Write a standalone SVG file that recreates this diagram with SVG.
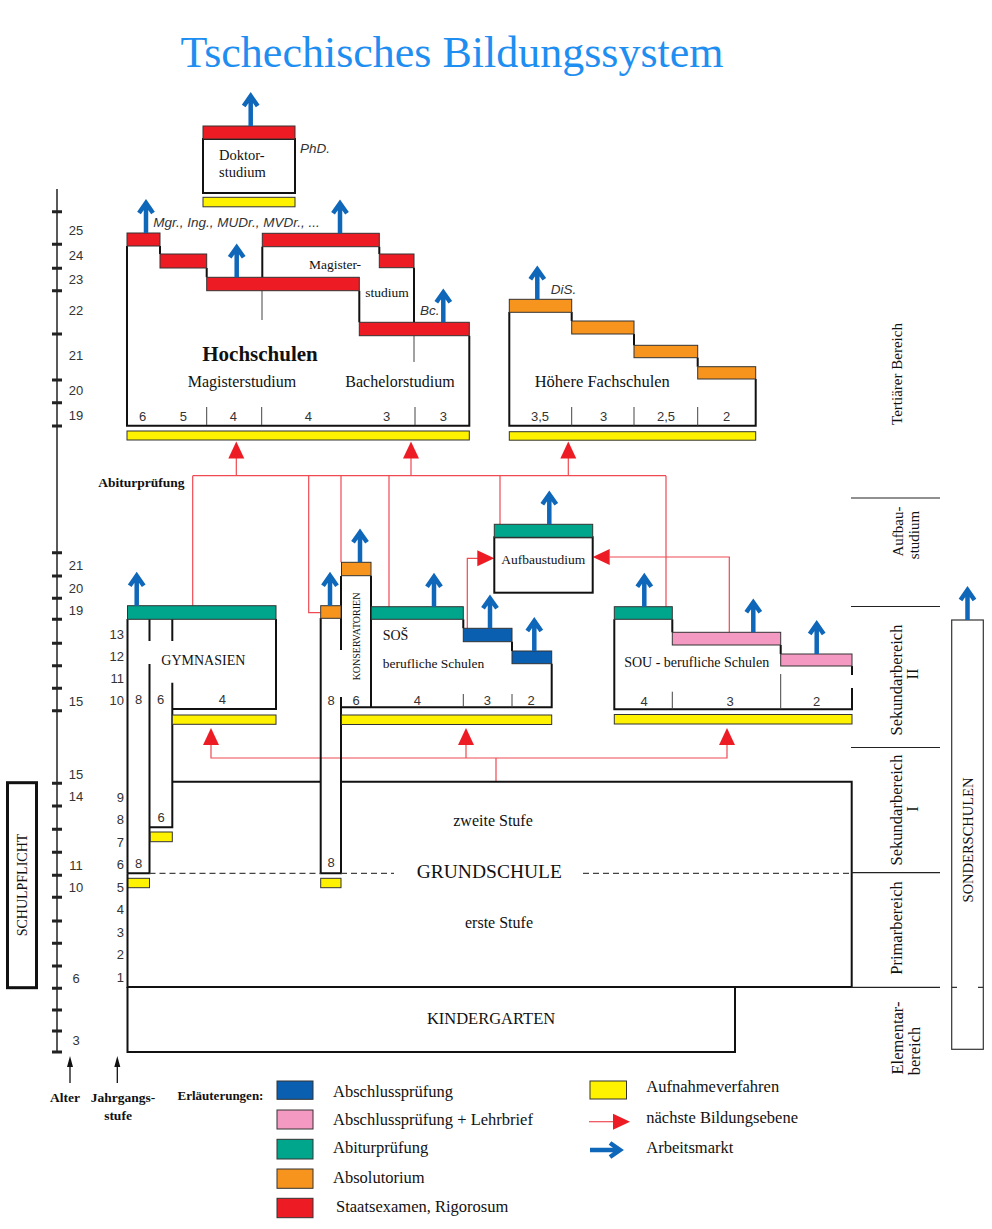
<svg xmlns="http://www.w3.org/2000/svg" xmlns:xlink="http://www.w3.org/1999/xlink" width="992" height="1229" viewBox="0 0 992 1229">
<style>
text{font-family:"Liberation Serif",serif;fill:#111}
.sn{font-family:"Liberation Sans",sans-serif;fill:#333;font-size:13px}
.it{font-family:"Liberation Sans",sans-serif;font-style:italic;fill:#333;font-size:13.5px}
.ol{fill:none;stroke:#111;stroke-width:2}
.tl{fill:none;stroke:#444;stroke-width:1}
.bar{stroke:#333;stroke-width:1}
.r{fill:#ed1c24}.o{fill:#f7941d}.g{fill:#00a68b}.b{fill:#0b5fb0}.p{fill:#f49ac2}.y{fill:#fff200}
.rl{fill:none;stroke:#ef4a52;stroke-width:1.2}
.sep{stroke:#222;stroke-width:1.2}
.mid{text-anchor:middle}
.end{text-anchor:end}
.bd{font-weight:bold}
</style>
<defs>
<g id="ba"><path d="M0,0 V-27 M-7,-20 L0,-30 L7,-20" fill="none" stroke="#0f67b9" stroke-width="4.5" stroke-miterlimit="10"/></g>
<path id="rh" d="M0,0 L8,17 L-8,17 Z" fill="#ed1c24"/>
</defs>
<rect width="992" height="1229" fill="#fff"/>
<text x="452" y="67" class="mid" font-size="44" style="fill:#1f8ef1">Tschechisches Bildungssystem</text>

<g id="axis">
<path d="M57,189 V1052" stroke="#222" stroke-width="1.5"/>
<path stroke="#222" stroke-width="3" d="M52,211.7H62M52,244.3H62M52,268.3H62M52,290.7H62M52,334H62M52,380H62M52,402.7H62M52,426H62M52,552.7H62M52,576H62M52,598.3H62M52,619.3H62M52,643.3H62M52,665.7H62M52,688.3H62M52,710.7H62M52,783.3H62M52,806H62M52,829.3H62M52,852.3H62M52,875.3H62M52,897.3H62M52,921H62M52,943.3H62M52,966H62M52,988.3H62M52,1010H62M52,1031H62M52,1052H62"/>
<g>
<text x="76" y="235" class="sn mid">25</text><text x="76" y="260" class="sn mid">24</text><text x="76" y="284" class="sn mid">23</text><text x="76" y="315" class="sn mid">22</text><text x="76" y="360" class="sn mid">21</text><text x="76" y="395" class="sn mid">20</text><text x="76" y="420" class="sn mid">19</text>
<text x="76" y="570" class="sn mid">21</text><text x="76" y="593" class="sn mid">20</text><text x="76" y="615" class="sn mid">19</text>
<text x="76" y="706" class="sn mid">15</text><text x="76" y="779" class="sn mid">15</text><text x="76" y="801" class="sn mid">14</text><text x="76" y="870" class="sn mid">11</text><text x="76" y="892" class="sn mid">10</text><text x="76" y="983" class="sn mid">6</text><text x="76" y="1045" class="sn mid">3</text>
</g>
<g>
<text x="124" y="639" class="sn end">13</text><text x="124" y="661" class="sn end">12</text><text x="124" y="683" class="sn end">11</text><text x="124" y="705" class="sn end">10</text>
<text x="124" y="802" class="sn end">9</text><text x="124" y="824" class="sn end">8</text><text x="124" y="847" class="sn end">7</text><text x="124" y="869" class="sn end">6</text><text x="124" y="892" class="sn end">5</text><text x="124" y="914" class="sn end">4</text><text x="124" y="937" class="sn end">3</text><text x="124" y="959" class="sn end">2</text><text x="124" y="982" class="sn end">1</text>
</g>
<path d="M70,1083 V1064 M117.3,1083 V1064" stroke="#111" stroke-width="1.3"/>
<path d="M70,1056 L67,1067 L73,1067 Z M117.3,1056 L114.3,1067 L120.3,1067 Z" fill="#111"/>
<text x="65" y="1101.5" class="mid bd" font-size="13.5">Alter</text>
<text x="123" y="1101.5" class="mid bd" font-size="13.5">Jahrgangs-</text>
<text x="118" y="1120" class="mid bd" font-size="13.5">stufe</text>
</g>

<g id="schulpflicht">
<rect x="7.5" y="782.7" width="29" height="205" fill="none" stroke="#111" stroke-width="3"/>
<text transform="translate(27,885) rotate(-90)" class="mid" font-size="14">SCHULPFLICHT</text>
</g>

<g id="connectors">
<path class="rl" d="M192.7,475.7 H666 M236.3,458 V475.7 M411,458 V475.7 M568.3,458 V475.7 M192.7,475.7 V605.7 M308.7,475.7 V612.7 H320.7 M341,475.7 V562.3 M389,475.7 V606.7 M500,475.7 V524.3 M666,475.7 V606.7"/>
<use xlink:href="#rh" href="#rh" x="236.3" y="441.5"/>
<use xlink:href="#rh" href="#rh" x="411" y="441.5"/>
<use xlink:href="#rh" href="#rh" x="568.3" y="441.5"/>
<path class="rl" d="M467.3,628.3 V558.3 H478 M729.3,632.3 V557 H610"/>
<use xlink:href="#rh" href="#rh" transform="translate(494.3,558.3) rotate(90)"/>
<use xlink:href="#rh" href="#rh" transform="translate(592.7,557) rotate(-90)"/>
<path class="rl" d="M211,745 V758 H727 V745 M466,745 V758 M496,758 V781.7"/>
<use xlink:href="#rh" href="#rh" x="211" y="728"/>
<use xlink:href="#rh" href="#rh" x="466" y="728"/>
<use xlink:href="#rh" href="#rh" x="727" y="728"/>
</g>

<g id="doktorstudium">
<rect x="203" y="139" width="92" height="54" class="ol" fill="#fff"/>
<rect x="203" y="126" width="92" height="13" class="bar r"/>
<rect x="203" y="197.3" width="92" height="9.5" class="bar y"/>
<text x="219" y="160" font-size="14.5">Doktor-</text>
<text x="219" y="177" font-size="14.5">studium</text>
<text x="300" y="152.5" class="it">PhD.</text>
<use xlink:href="#ba" href="#ba" x="250.7" y="126"/>
</g>

<g id="hochschulen">
<path class="ol" d="M127,246 V425.7 H469.3 V335.7 M160,246 V254 M206.7,268 V277.3 M359.3,290.7 V322.3 M262.3,246.7 V277.3 M379.3,246.7 V254 M414,267.7 V322.3"/>
<path class="tl" d="M262,291 V320 M414,336 V362 M206.7,407 V425 M261.7,407 V425 M415,407 V425"/>
<rect x="127" y="233" width="33" height="13" class="bar r"/>
<rect x="160" y="254" width="46.7" height="14" class="bar r"/>
<rect x="206.7" y="277.3" width="152.6" height="13.4" class="bar r"/>
<rect x="262.3" y="233.3" width="117" height="13.4" class="bar r"/>
<rect x="379.3" y="254" width="34.7" height="13.7" class="bar r"/>
<rect x="359.3" y="322.3" width="110" height="13.4" class="bar r"/>
<rect x="127" y="431" width="342.3" height="9" class="bar y"/>
<text x="153.3" y="226.7" class="it">Mgr., Ing., MUDr., MVDr., ...</text>
<text x="420" y="315" class="it">Bc.</text>
<text x="335" y="269.3" class="mid" font-size="13.5">Magister-</text>
<text x="387" y="297.3" class="mid" font-size="13.5">studium</text>
<text x="260" y="360.7" class="mid bd" font-size="21">Hochschulen</text>
<text x="242" y="387.3" class="mid" font-size="16">Magisterstudium</text>
<text x="400" y="387.3" class="mid" font-size="16">Bachelorstudium</text>
<text x="142.7" y="421" class="sn mid">6</text><text x="183.3" y="421" class="sn mid">5</text><text x="233.3" y="421" class="sn mid">4</text><text x="308.3" y="421" class="sn mid">4</text><text x="386.7" y="421" class="sn mid">3</text><text x="443.3" y="421" class="sn mid">3</text>
<use xlink:href="#ba" href="#ba" x="146" y="233"/>
<use xlink:href="#ba" href="#ba" x="236.7" y="277.3"/>
<use xlink:href="#ba" href="#ba" x="340" y="233.3"/>
<use xlink:href="#ba" href="#ba" x="443.3" y="322.3"/>
</g>

<g id="hoehere-fachschulen">
<path class="ol" d="M509.3,312 V425.7 H755.7 V379 M571.7,312 V321 M634,334 V345.3 M697.7,357.7 V366.7"/>
<path class="tl" d="M571.7,407 V425.7 M634,407 V425.7 M697.7,407 V425.7"/>
<rect x="509.3" y="299.3" width="62.4" height="13" class="bar o"/>
<rect x="571.7" y="321" width="62.3" height="13" class="bar o"/>
<rect x="634" y="345.3" width="63.7" height="12.4" class="bar o"/>
<rect x="697.7" y="366.7" width="58" height="12.3" class="bar o"/>
<rect x="509.3" y="431.7" width="246.4" height="8.5" class="bar y"/>
<text x="550.7" y="294.3" class="it">DiS.</text>
<text x="602.3" y="386.7" class="mid" font-size="16.5">Höhere Fachschulen</text>
<text x="540" y="421" class="sn mid">3,5</text><text x="603.7" y="421" class="sn mid">3</text><text x="666" y="421" class="sn mid">2,5</text><text x="726.7" y="421" class="sn mid">2</text>
<use xlink:href="#ba" href="#ba" x="537.3" y="299.3"/>
</g>

<text x="98.3" y="487.3" class="bd" font-size="13.5">Abiturprüfung</text>

<g id="aufbaustudium">
<rect x="494.3" y="537.3" width="98.4" height="55.4" class="ol" fill="#fff"/>
<rect x="494.3" y="524.3" width="98.4" height="13" class="bar g"/>
<text x="543.3" y="564" class="mid" font-size="13.5">Aufbaustudium</text>
<use xlink:href="#ba" href="#ba" x="549.3" y="524.3"/>
</g>

<g id="gymnasien">
<path class="ol" d="M127.5,619 V873.3 M276,619 V709 H172.3 M149.5,619 V641 M149.5,664 V873.3 H127.5 M172.3,619 V641 M172.3,682.7 V827.3 H149.5"/>
<rect x="127.5" y="605.7" width="148.5" height="13.6" class="bar g"/>
<rect x="172.3" y="715" width="103.7" height="9.3" class="bar y"/>
<rect x="150.3" y="832" width="22" height="9.7" class="bar y"/>
<rect x="127.5" y="878.3" width="22" height="9.4" class="bar y"/>
<text x="203.3" y="665" class="mid" font-size="14">GYMNASIEN</text>
<text x="138.5" y="704.3" class="sn mid">8</text><text x="160.5" y="704.3" class="sn mid">6</text><text x="222.3" y="704.3" class="sn mid">4</text>
<text x="161" y="821.7" class="sn mid">6</text>
<text x="138.5" y="868.3" class="sn mid">8</text>
<use xlink:href="#ba" href="#ba" x="136.7" y="605.7"/>
</g>

<g id="konservatorien">
<path class="ol" d="M320.7,618 V873.3 H341 V697 M341,650 V576 M371,575.7 V707.3"/>
<rect x="320.7" y="605.7" width="20.3" height="12.6" class="bar o"/>
<rect x="341.5" y="562.3" width="29.5" height="13.4" class="bar o"/>
<rect x="320.7" y="878.3" width="20.3" height="9.4" class="bar y"/>
<text transform="translate(359.5,636.5) rotate(-90)" class="mid" font-size="10">KONSERVATORIEN</text>
<text x="331" y="705" class="sn mid">8</text><text x="356" y="705" class="sn mid">6</text>
<text x="331" y="867" class="sn mid">8</text>
<use xlink:href="#ba" href="#ba" x="330" y="605.7"/>
<use xlink:href="#ba" href="#ba" x="360" y="562.3"/>
</g>

<g id="sos">
<path class="ol" d="M341,707.3 H551.7 V663.7 M463.3,619.3 V628.3 M512,641.7 V651"/>
<path class="tl" d="M463.3,694 V707.3 M512,694 V707.3"/>
<rect x="371.3" y="606.7" width="92" height="12.6" class="bar g"/>
<rect x="463.3" y="628.3" width="48.7" height="13.4" class="bar b"/>
<rect x="512" y="651" width="39.7" height="12.7" class="bar b"/>
<rect x="341.5" y="715" width="210.2" height="9.5" class="bar y"/>
<text x="382.7" y="640" font-size="14">SOŠ</text>
<text x="382.7" y="667.7" font-size="13.5">berufliche Schulen</text>
<text x="417.3" y="705" class="sn mid">4</text><text x="487.3" y="705" class="sn mid">3</text><text x="531" y="705" class="sn mid">2</text>
<use xlink:href="#ba" href="#ba" x="434" y="606.7"/>
<use xlink:href="#ba" href="#ba" x="490" y="628.3"/>
<use xlink:href="#ba" href="#ba" x="534.3" y="651"/>
</g>

<g id="sou">
<path class="ol" d="M614.3,619.3 V709.3 H852 V688 M852,675 V666 M672.3,619.3 V632.3 M780.7,645 V654"/>
<path class="tl" d="M672.3,691.7 V709.3 M780.7,674 V709.3"/>
<rect x="614.3" y="606.7" width="58" height="12.6" class="bar g"/>
<rect x="672.3" y="632.3" width="108.4" height="12.7" class="bar p"/>
<rect x="780.7" y="654" width="71.3" height="12" class="bar p"/>
<rect x="614.3" y="714.5" width="237.7" height="9.5" class="bar y"/>
<text x="696.7" y="666.7" class="mid" font-size="14">SOU - berufliche Schulen</text>
<text x="644" y="705.7" class="sn mid">4</text><text x="730" y="705.7" class="sn mid">3</text><text x="816.7" y="705.7" class="sn mid">2</text>
<use xlink:href="#ba" href="#ba" x="644.3" y="606.7"/>
<use xlink:href="#ba" href="#ba" x="753.3" y="632.3"/>
<use xlink:href="#ba" href="#ba" x="816.7" y="654"/>
</g>

<g id="grundschule">
<path class="ol" d="M127.5,873.3 V987 H851.7 V781.7 H341 M320.7,781.7 H172.3"/>
<path d="M149.5,873.3 H320.7 M341,873.3 H394 M583,873.3 H851.7" stroke="#444" stroke-width="1.3" stroke-dasharray="6,4" fill="none"/>
<text x="489.3" y="877.7" class="mid" font-size="19.5">GRUNDSCHULE</text>
<text x="493" y="826" class="mid" font-size="16">zweite Stufe</text>
<text x="499" y="928" class="mid" font-size="16">erste Stufe</text>
</g>

<g id="kindergarten">
<path class="ol" d="M127.5,987 V1052 H735 V987"/>
<text x="491" y="1024.3" class="mid" font-size="16.5">KINDERGARTEN</text>
</g>

<g id="bereiche">
<path class="sep" d="M851,498 H940 M851,606.5 H940 M851,747.5 H940 M851,872.7 H940 M851,987.3 H940"/>
<text transform="translate(901.5,374) rotate(-90)" class="mid" font-size="15">Tertiärer Bereich</text>
<text transform="translate(903,531.5) rotate(-90)" class="mid" font-size="15">Aufbau-</text>
<text transform="translate(919,535) rotate(-90)" class="mid" font-size="15">studium</text>
<text transform="translate(901.5,680) rotate(-90)" class="mid" font-size="16.5">Sekundarbereich</text>
<text transform="translate(918,674) rotate(-90)" class="mid" font-size="16.5">II</text>
<text transform="translate(901.5,810) rotate(-90)" class="mid" font-size="16.5">Sekundarbereich</text>
<text transform="translate(918,809) rotate(-90)" class="mid" font-size="16.5">I</text>
<text transform="translate(901.5,928) rotate(-90)" class="mid" font-size="16.5">Primarbereich</text>
<text transform="translate(903,1038) rotate(-90)" class="mid" font-size="16.5">Elementar-</text>
<text transform="translate(920,1051) rotate(-90)" class="mid" font-size="16.5">bereich</text>
</g>

<g id="sonderschulen">
<rect x="951.7" y="620" width="31.6" height="429.3" fill="none" stroke="#333" stroke-width="1.2"/>
<path d="M951.7,987.3 H957 M978,987.3 H983.3" stroke="#333" stroke-width="1.2"/>
<text transform="translate(973,840) rotate(-90)" class="mid" font-size="14.5">SONDERSCHULEN</text>
<use xlink:href="#ba" href="#ba" x="967.5" y="620"/>
</g>

<g id="legende">
<text x="177.5" y="1100" class="bd" font-size="13">Erläuterungen:</text>
<rect x="277" y="1081" width="36" height="18.3" class="bar b"/>
<rect x="277" y="1110" width="36" height="19" class="bar p"/>
<rect x="277" y="1139.3" width="36" height="19.7" class="bar g"/>
<rect x="277" y="1169" width="36" height="19.3" class="bar o"/>
<rect x="277" y="1198.3" width="36" height="19.4" class="bar r"/>
<text x="333" y="1097.3" font-size="16.5">Abschlussprüfung</text>
<text x="333" y="1125" font-size="16.5">Abschlussprüfung + Lehrbrief</text>
<text x="333" y="1153.3" font-size="16.5">Abiturprüfung</text>
<text x="333" y="1183.3" font-size="16.5">Absolutorium</text>
<text x="336" y="1211.7" font-size="16.5">Staatsexamen, Rigorosum</text>
<rect x="590" y="1081" width="36.5" height="18" class="bar y"/>
<text x="646.3" y="1091.7" font-size="16.5">Aufnahmeverfahren</text>
<path class="rl" d="M589,1121.7 H614"/>
<use xlink:href="#rh" href="#rh" transform="translate(630,1121.7) rotate(90)"/>
<text x="646.3" y="1123.3" font-size="16.5">nächste Bildungsebene</text>
<use xlink:href="#ba" href="#ba" transform="translate(590,1150) rotate(90)"/>
<text x="646.3" y="1153.3" font-size="16.5">Arbeitsmarkt</text>
</g>
</svg>
